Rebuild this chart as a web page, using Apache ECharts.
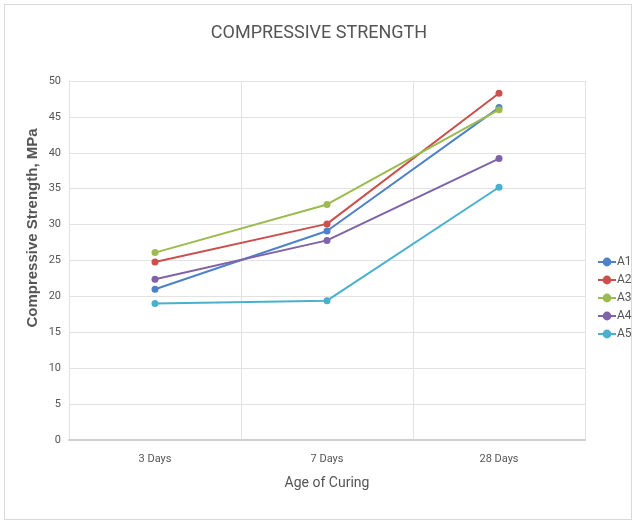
<!DOCTYPE html>
<html>
<head>
<meta charset="utf-8">
<script src="https://cdn.jsdelivr.net/npm/echarts@6/dist/echarts.min.js"></script>
<style>
  html, body { margin: 0; padding: 0; background: #fff; }
  #frame { position: absolute; left: 4px; top: 4px; width: 628px; height: 516px; border: 1px solid #d9d9d9; box-sizing: border-box; }
  #chart { position: absolute; left: 0; top: 0; width: 638px; height: 526px; }
</style>
</head>
<body>
<div id="frame"></div>
<div id="chart"></div>
<script>
// Curing ages on the x axis
const categories = ['3 Days', '7 Days', '28 Days'];

// Compressive strength (MPa) per mix
const seriesNames = ['A1', 'A2', 'A3', 'A4', 'A5'];
const A1 = [21.0, 29.1, 46.3];
const A2 = [24.8, 30.1, 48.3];
const A3 = [26.1, 32.8, 46.0];
const A4 = [22.4, 27.8, 39.2];
const A5 = [19.0, 19.4, 35.2];
const seriesValues = [A1, A2, A3, A4, A5];

const colors = ['#4f81c9', '#c9504d', '#9bbb4f', '#7f62a8', '#4bb0cc'];

const chart = echarts.init(document.getElementById('chart'), null, { renderer: 'canvas' });

chart.setOption({
  animation: false,
  color: colors,
  textStyle: { fontFamily: 'Roboto' },
  title: {
    text: 'COMPRESSIVE STRENGTH',
    left: 'center',
    top: 19,
    textStyle: { fontFamily: 'Roboto', fontSize: 18, fontWeight: 'normal', color: '#555' }
  },
  legend: {
    orient: 'vertical',
    left: 592,
    top: 251,
    itemGap: 6,
    itemWidth: 18,
    itemHeight: 11,
    textStyle: { fontFamily: 'Roboto', fontSize: 12, color: '#555', padding: [0, 0, 0, -4] },
    data: seriesNames
  },
  grid: { left: 69, right: 53, top: 81, bottom: 86 },
  xAxis: {
    type: 'category',
    data: categories,
    boundaryGap: true,
    name: 'Age of Curing',
    nameLocation: 'middle',
    nameGap: 36,
    nameTextStyle: { fontSize: 14, color: '#555' },
    axisLine: { lineStyle: { color: '#cfcfcf', width: 2 } },
    axisTick: { show: false },
    axisLabel: { fontSize: 11, color: '#555', margin: 14 },
    splitLine: { show: true, lineStyle: { color: '#e2e2e2', width: 1 } }
  },
  yAxis: {
    type: 'value',
    min: 0,
    max: 50,
    interval: 5,
    axisLine: { show: true, lineStyle: { color: '#e2e2e2', width: 1 } },
    axisTick: { show: false },
    axisLabel: { fontSize: 11, color: '#555', margin: 8 },
    splitLine: { lineStyle: { color: '#e2e2e2', width: 1 } }
  },
  graphic: [{
    type: 'text',
    x: 33,
    y: 228,
    rotation: Math.PI / 2,
    style: {
      text: 'Compressive Strength, MPa',
      fontFamily: '"Liberation Sans", Arial',
      fontSize: 15,
      fontWeight: 'bold',
      fill: '#555',
      align: 'center',
      verticalAlign: 'middle'
    }
  }],
  series: seriesNames.map((name, i) => ({
    name: name,
    type: 'line',
    data: seriesValues[i],
    symbol: 'circle',
    symbolSize: 7,
    lineStyle: { width: 2 },
    itemStyle: { color: colors[i] }
  }))
});
</script>
</body>
</html>
